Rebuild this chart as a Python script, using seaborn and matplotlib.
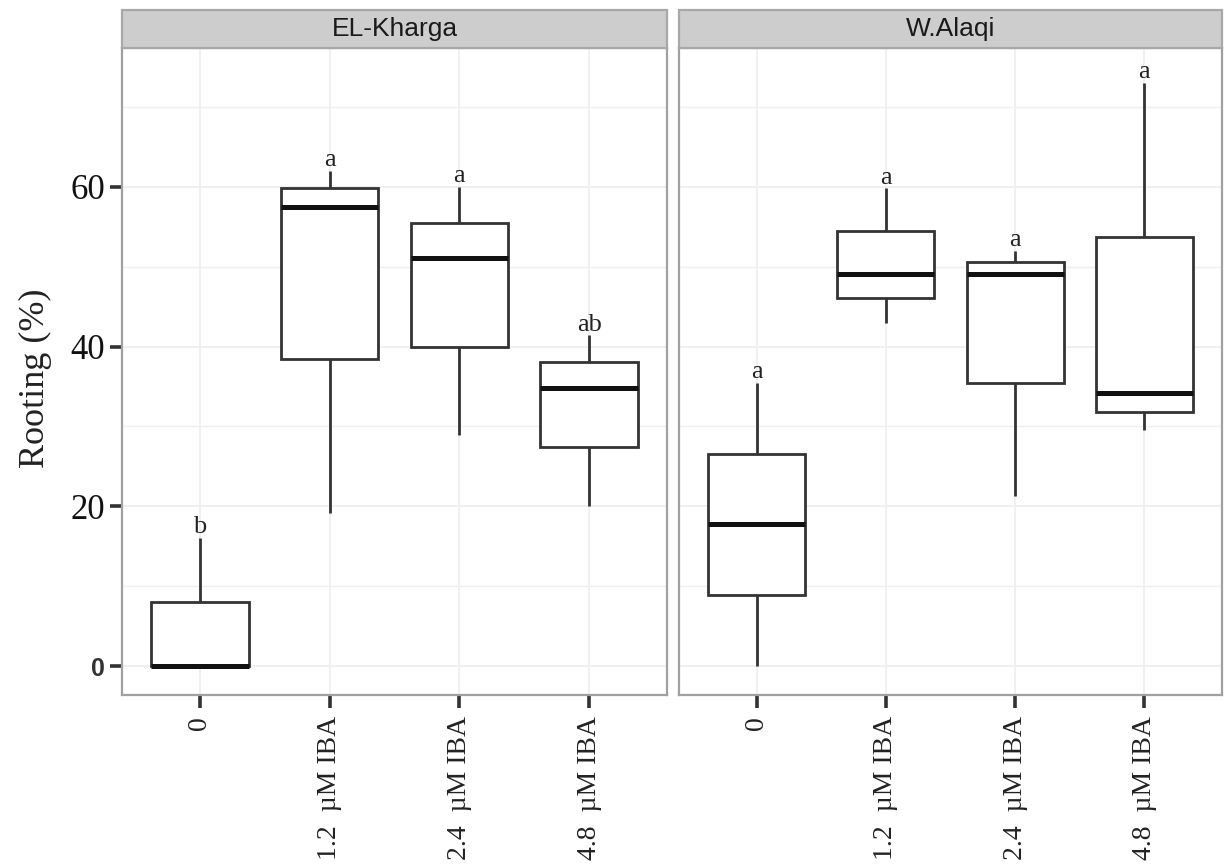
import numpy as np
import pandas as pd
import matplotlib
matplotlib.use("Agg")
import matplotlib.pyplot as plt
from matplotlib.patches import Rectangle
import seaborn as sns

# ---------------- data (five-number summaries) ----------------
treatments = ["0", "1.2  µM IBA", "2.4  µM IBA", "4.8  µM IBA"]
sites = ["EL-Kharga", "W.Alaqi"]

kharga_low = [0.0, 19.2, 28.9, 20.0]
kharga_q1 = [0.0, 38.4, 39.9, 27.4]
kharga_med = [0.0, 57.5, 51.1, 34.8]
kharga_q3 = [8.0, 59.9, 55.5, 38.1]
kharga_high = [16.0, 62.0, 60.0, 41.4]
kharga_letters = ["b", "a", "a", "ab"]

alaqi_low = [0.0, 43.0, 21.3, 29.5]
alaqi_q1 = [8.9, 46.1, 35.4, 31.8]
alaqi_med = [17.8, 49.1, 49.1, 34.2]
alaqi_q3 = [26.6, 54.5, 50.6, 53.7]
alaqi_high = [35.4, 59.8, 52.0, 73.0]
alaqi_letters = ["a", "a", "a", "a"]

y_major = [0, 20, 40, 60]
y_minor = [10, 30, 50, 70]

site_stats = {
    "EL-Kharga": (kharga_low, kharga_q1, kharga_med, kharga_q3, kharga_high, kharga_letters),
    "W.Alaqi": (alaqi_low, alaqi_q1, alaqi_med, alaqi_q3, alaqi_high, alaqi_letters),
}

rows = []
for s in sites:
    lo, q1, md, q3, hi, _ = site_stats[s]
    for i, t in enumerate(treatments):
        for v in (lo[i], q1[i], md[i], q3[i], hi[i]):
            rows.append({"site": s, "treatment": t, "rooting": v})
df = pd.DataFrame(rows)

# ---------------- style ----------------
sns.set_style("white")
plt.rcParams["font.family"] = ["Liberation Serif", "DejaVu Serif"]

W, H = 1224, 866
fig = plt.figure(figsize=(W / 100, H / 100), dpi=100)
fig.patch.set_facecolor("white")

panel_top, panel_bot = 48, 695
panels = [(122, 667), (679, 1222)]
strip_h = 38

GRID = "#efefef"
DARK = "#333333"

for k, (s, (x0, x1)) in enumerate(zip(sites, panels)):
    ax = fig.add_axes([x0 / W, 1 - panel_bot / H, (x1 - x0) / W, (panel_bot - panel_top) / H])
    sub = df[df["site"] == s]
    sns.boxplot(data=sub, x="treatment", y="rooting", order=treatments, ax=ax,
                width=0.75, whis=(0, 100), color="white", linecolor=DARK,
                linewidth=2.0, showcaps=False, fliersize=0,
                medianprops=dict(linewidth=3.6, color="#111111"))
    ax.set_xlim(-0.6, 3.6)
    ax.set_ylim(-3.625, 77.375)
    ax.set_yticks(y_major)
    ax.set_yticks(y_minor, minor=True)
    ax.set_xticks(range(len(treatments)))
    ax.set_axisbelow(True)
    ax.grid(True, which="major", color=GRID, linewidth=1.3)
    ax.grid(True, which="minor", axis="y", color=GRID, linewidth=1.0)
    for sp in ax.spines.values():
        sp.set_visible(True)
        sp.set_color("#a0a0a0")
        sp.set_linewidth(1.6)
    ax.set_xlabel("")
    ax.set_ylabel("")
    ax.set_xticklabels(treatments, rotation=90, fontsize=20, color="#222222",
                       va="top", ha="center")
    ax.tick_params(axis="x", which="major", length=9, width=2.6, color=DARK, pad=6,
                   bottom=True)
    ax.tick_params(axis="y", which="minor", length=0, left=False)

    if k == 0:
        ax.set_yticklabels([str(v) for v in y_major], fontsize=25, color="#111111")
        ax.tick_params(axis="y", which="major", length=9, width=2.6, color=DARK, pad=3,
                       left=True)
        lbl0 = ax.get_yticklabels()[0]
        lbl0.set_fontfamily("Liberation Sans")
        lbl0.set_fontweight("bold")
        lbl0.set_fontsize(18)
        lbl0.set_color("#333333")
        ax.set_ylabel("Rooting (%)", fontsize=26, color="#222222")
        ax.yaxis.set_label_coords(-0.128, 0.49)
    else:
        ax.set_yticklabels([])
        ax.tick_params(axis="y", which="both", length=0, left=False)

    # strip
    ax.add_patch(Rectangle((0, 1), 1, strip_h / (panel_bot - panel_top),
                           transform=ax.transAxes, clip_on=False,
                           facecolor="#cdcdcd", edgecolor="#a8a8a8", linewidth=1.6,
                           zorder=5))
    ax.text(0.5, 1 + strip_h / 2 / (panel_bot - panel_top), s, transform=ax.transAxes,
            ha="center", va="center", fontsize=19, family=["Liberation Sans"],
            color="#1a1a1a", zorder=6)

    # significance letters above the upper whiskers
    hi = site_stats[s][4]
    letters = site_stats[s][5]
    for i, (h, letter) in enumerate(zip(hi, letters)):
        ax.text(i, h + 0.6, letter, ha="center", va="baseline", fontsize=19,
                color="#222222")

fig.savefig("out.png", dpi=100, facecolor="white")
